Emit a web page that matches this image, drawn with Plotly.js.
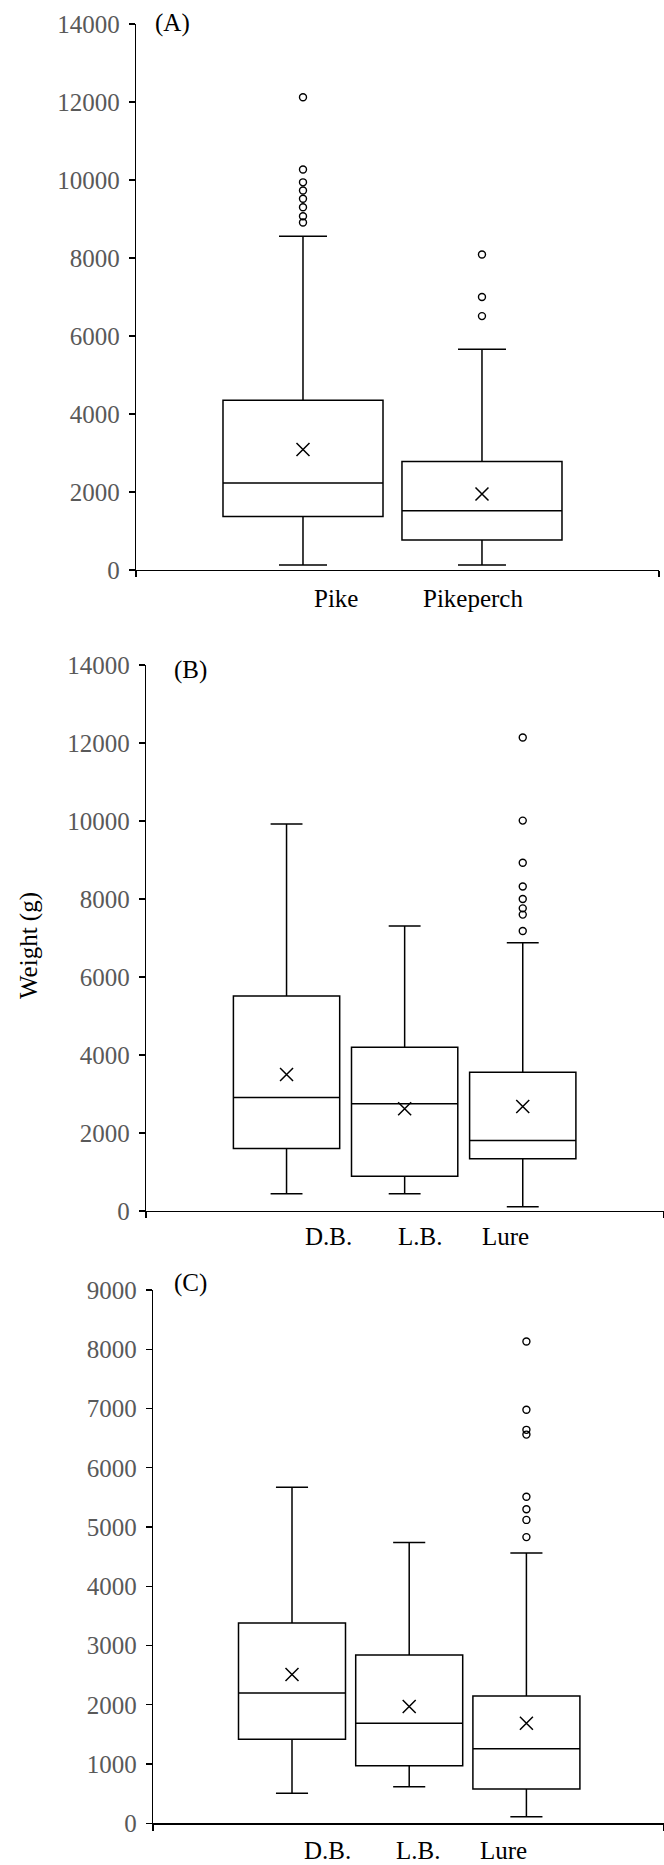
<!DOCTYPE html>
<html><head><meta charset="utf-8">
<script src="https://cdn.plot.ly/plotly-3.0.1.min.js"></script>
<style>html,body{margin:0;padding:0;background:#fff}#chart{width:664px;height:1865px}</style>
</head><body><div id="chart"></div>
<script>
// ---------- Panel A: species ----------
const catsA = ["Pike", "Pikeperch"];
const q1A = [1370, 770];
const medA = [2230, 1520];
const q3A = [4350, 2780];
const loA = [125, 125];
const hiA = [8560, 5660];
const meanA = [3090, 1950];
const outA = [[12120, 10270, 9940, 9730, 9520, 9300, 9070, 8910], [8090, 7000, 6510]];

// ---------- Panel B: method (pike) ----------
const catsB = ["D.B.", "L.B.", "Lure"];
const q1B = [1600, 890, 1340];
const medB = [2910, 2750, 1810];
const q3B = [5510, 4200, 3560];
const loB = [440, 440, 110];
const hiB = [9920, 7310, 6880];
const meanB = [3500, 2620, 2680];
const outB = [[], [], [12140, 10010, 8930, 8320, 8000, 7760, 7600, 7180]];

// ---------- Panel C: method (pikeperch) ----------
const catsC = ["D.B.", "L.B.", "Lure"];
const q1C = [1420, 970, 579];
const medC = [2200, 1690, 1260];
const q3C = [3380, 2840, 2150];
const loC = [506, 618, 111];
const hiC = [5670, 4740, 4560];
const meanC = [2510, 1970, 1690];
const outC = [[], [], [8130, 6980, 6640, 6560, 5510, 5300, 5120, 4830]];

const panelTags = ["(A)", "(B)", "(C)"];
const yTitle = "Weight (g)";

// ---------- styling / layout constants ----------
const W = 664, H = 1865;
const FONT = "'Liberation Serif'";
const px = v => v / W;
const py = v => 1 - v / H;

function panel(cats, q1, med, q3, lo, hi, mean, outs, ax, bw, labelShift) {
  const pos = cats.map((c, i) => i + 1);
  const xa = ax === 1 ? 'x' : 'x' + ax;
  const ya = ax === 1 ? 'y' : 'y' + ax;
  const ox = [], oy = [];
  outs.forEach((arr, i) => arr.forEach(v => { ox.push(pos[i]); oy.push(v); }));
  const traces = [
    {type: 'box', x: pos, q1: q1, median: med, q3: q3, lowerfence: lo, upperfence: hi,
     xaxis: xa, yaxis: ya, width: bw, whiskerwidth: 0.3, boxpoints: false,
     line: {color: '#000', width: 1.5}, fillcolor: 'rgba(0,0,0,0)', hoverinfo: 'skip', showlegend: false},
    {type: 'scatter', mode: 'markers', x: pos, y: mean, xaxis: xa, yaxis: ya, showlegend: false,
     marker: {symbol: 'x-thin', size: 13, color: '#000', line: {color: '#000', width: 1.5}}},
    {type: 'scatter', mode: 'markers', x: ox, y: oy, xaxis: xa, yaxis: ya, showlegend: false,
     marker: {symbol: 'circle-open', size: 7, color: '#000', line: {color: '#000', width: 1.4}}}
  ];
  const labels = cats.map((c, i) => ({
    text: c, xref: xa, x: pos[i] + labelShift[i], yref: 'paper', y: 0,
    showarrow: false, xanchor: 'center', yanchor: 'middle',
    font: {family: FONT, size: 25, color: '#000'}
  }));
  return {traces, labels};
}

const A = panel(catsA, q1A, medA, q3A, loA, hiA, meanA, outA, 1, 0.894, [0.187, -0.049]);
const B = panel(catsB, q1B, medB, q3B, loB, hiB, meanB, outB, 2, 0.90, [0.357, 0.133, -0.143]);
const C = panel(catsC, q1C, medC, q3C, loC, hiC, meanC, outC, 3, 0.913, [0.299, 0.078, -0.197]);

A.labels.forEach(l => l.y = py(598));
B.labels.forEach(l => l.y = py(1236));
C.labels.forEach(l => l.y = py(1850));

function xaxis(dom, range, yanchor) {
  return {domain: dom, range: range, anchor: yanchor, showgrid: false, zeroline: false,
    showline: true, linecolor: '#000', linewidth: 1.3, ticks: 'outside', ticklen: 6,
    tickwidth: 1.3, tickcolor: '#000', tickvals: range, showticklabels: false,
    automargin: false, fixedrange: true};
}
function yaxis(dom, range, dtick, xanchor) {
  return {domain: dom, range: range, anchor: xanchor, dtick: dtick, tick0: 0,
    tickformat: 'd', exponentformat: 'none', separatethousands: false,
    showgrid: false, zeroline: false, showline: true, linecolor: '#000', linewidth: 1.3,
    ticks: 'outside', ticklen: 6, tickwidth: 1.3, tickcolor: '#000',
    tickfont: {family: FONT, size: 25, color: '#595959'}, ticklabelstandoff: 4,
    automargin: false, fixedrange: true};
}

const layout = {
  width: W, height: H, margin: {l: 0, r: 0, t: 0, b: 0},
  paper_bgcolor: '#fff', plot_bgcolor: '#fff', showlegend: false,
  font: {family: FONT, color: '#000'},
  xaxis: xaxis([px(136), px(659)], [0.067, 2.989], 'y'),
  yaxis: yaxis([py(570), py(24)], [0, 14000], 2000, 'x'),
  xaxis2: xaxis([px(146), 1], [-0.190, 4.196], 'y2'),
  yaxis2: yaxis([py(1211), py(665)], [0, 14000], 2000, 'x2'),
  xaxis3: xaxis([px(153), 1], [-0.186, 4.174], 'y3'),
  yaxis3: yaxis([py(1823.3), py(1290)], [0, 9000], 1000, 'x3'),
  annotations: [
    ...A.labels, ...B.labels, ...C.labels,
    {text: panelTags[0], xref: 'paper', yref: 'paper', x: px(172), y: py(23), showarrow: false,
     xanchor: 'center', yanchor: 'middle', font: {family: FONT, size: 25, color: '#000'}},
    {text: panelTags[1], xref: 'paper', yref: 'paper', x: px(190), y: py(670), showarrow: false,
     xanchor: 'center', yanchor: 'middle', font: {family: FONT, size: 25, color: '#000'}},
    {text: panelTags[2], xref: 'paper', yref: 'paper', x: px(190), y: py(1283), showarrow: false,
     xanchor: 'center', yanchor: 'middle', font: {family: FONT, size: 25, color: '#000'}},
    {text: yTitle, xref: 'paper', yref: 'paper', x: px(29), y: py(946), showarrow: false,
     textangle: -90, xanchor: 'center', yanchor: 'middle', font: {family: FONT, size: 25, color: '#000'}}
  ]
};

Plotly.newPlot('chart', [...A.traces, ...B.traces, ...C.traces], layout,
  {staticPlot: true, displayModeBar: false});
</script></body></html>
